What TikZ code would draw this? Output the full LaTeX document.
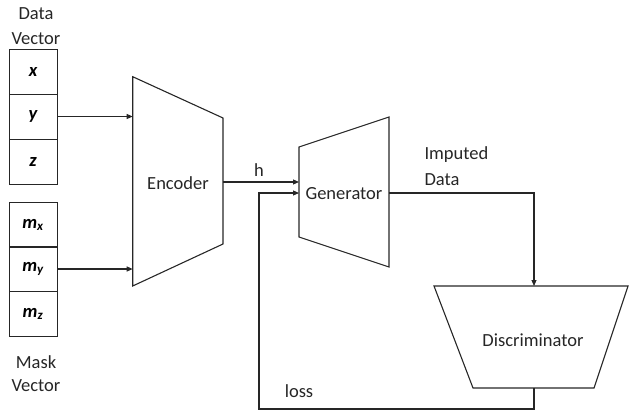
\documentclass[tikz,border=0pt]{standalone}
\usepackage{fontspec}
\setmainfont{Carlito}
\usetikzlibrary{arrows.meta}
\begin{document}
\begin{tikzpicture}[x=1pt,y=-1pt,
  line width=1.1pt,
  ink/.style={draw=black!85},
  arr/.style={ink,-{Triangle[length=6pt,width=5pt]}},
  cell/.style={ink,line width=1pt,minimum width=48pt,minimum height=45pt,inner sep=0pt,
    font=\fontsize{18.5}{22}\selectfont\bfseries\itshape},
  lbl/.style={inner sep=0pt,font=\fontsize{18.5}{22}\selectfont,text=black!85},
  llbl/.style={lbl,anchor=west}]
\useasboundingbox (0,0) rectangle (630,415);

% data vector
\node[cell] (dx) at (33,72)  {x};
\node[cell] (dy) at (33,116.5) {y};
\node[cell] (dz) at (33,162) {z};
\node[lbl] (dt1) at (36,14) {Data};
\node[lbl] (dt2) at (36,39) {Vector};

% mask vector
\node[cell] (mx) at (33,225) {m\textsubscript{x}};
\node[cell] (my) at (33,269) {m\textsubscript{y}};
\node[cell] (mz) at (33,314) {m\textsubscript{z}};
\node[lbl] (mt1) at (36,362) {Mask};
\node[lbl] (mt2) at (36,386) {Vector};

% encoder
\coordinate (e1) at (132.7,76.7);
\coordinate (e2) at (223,118);
\coordinate (e3) at (223,244);
\coordinate (e4) at (132.7,286);
\draw[ink,line join=miter] (e1) -- (e2) -- (e3) -- (e4) -- cycle;
\node[lbl] (enc) at (178,183) {Encoder};

% generator
\coordinate (g1) at (299,147);
\coordinate (g2) at (389,117);
\coordinate (g3) at (389,267);
\coordinate (g4) at (299,237);
\draw[ink] (g1) -- (g2) -- (g3) -- (g4) -- cycle;
\node[lbl] (gen) at (344,194) {Generator};

% discriminator
\coordinate (d1) at (434,286);
\coordinate (d2) at (628,286);
\coordinate (d3) at (594,388);
\coordinate (d4) at (473,388);
\draw[ink] (d1) -- (d2) -- (d3) -- (d4) -- cycle;
\node[lbl] (dis) at (533,340) {Discriminator};

% inputs to the encoder
\draw[arr] (dy.east) -- (dy.east -| e1);
\draw[arr] (my.east) -- (my.east -| e1);

% encoder to generator
\coordinate (hout) at (223,182);
\coordinate (hin) at (299,182);
\draw[arr] (hout) -- (hin);
\node[lbl] (h) at (259,170) {h};

% generator to discriminator
\coordinate (gout) at (389,193);
\coordinate (dtop) at (534,286);
\draw[arr] (gout) -| (dtop);
\node[llbl] (imp1) at (424,155) {Imputed};
\node[llbl] (imp2) at (424,180) {Data};

% loss fed back to the generator
\coordinate (dbot) at (534,388);
\coordinate (lossturn) at (259,409);
\coordinate (gin2) at (299,193);
\draw[arr] (dbot) |- (lossturn) |- (gin2);
\node[lbl] (loss) at (299,391) {loss};
\end{tikzpicture}
\end{document}
